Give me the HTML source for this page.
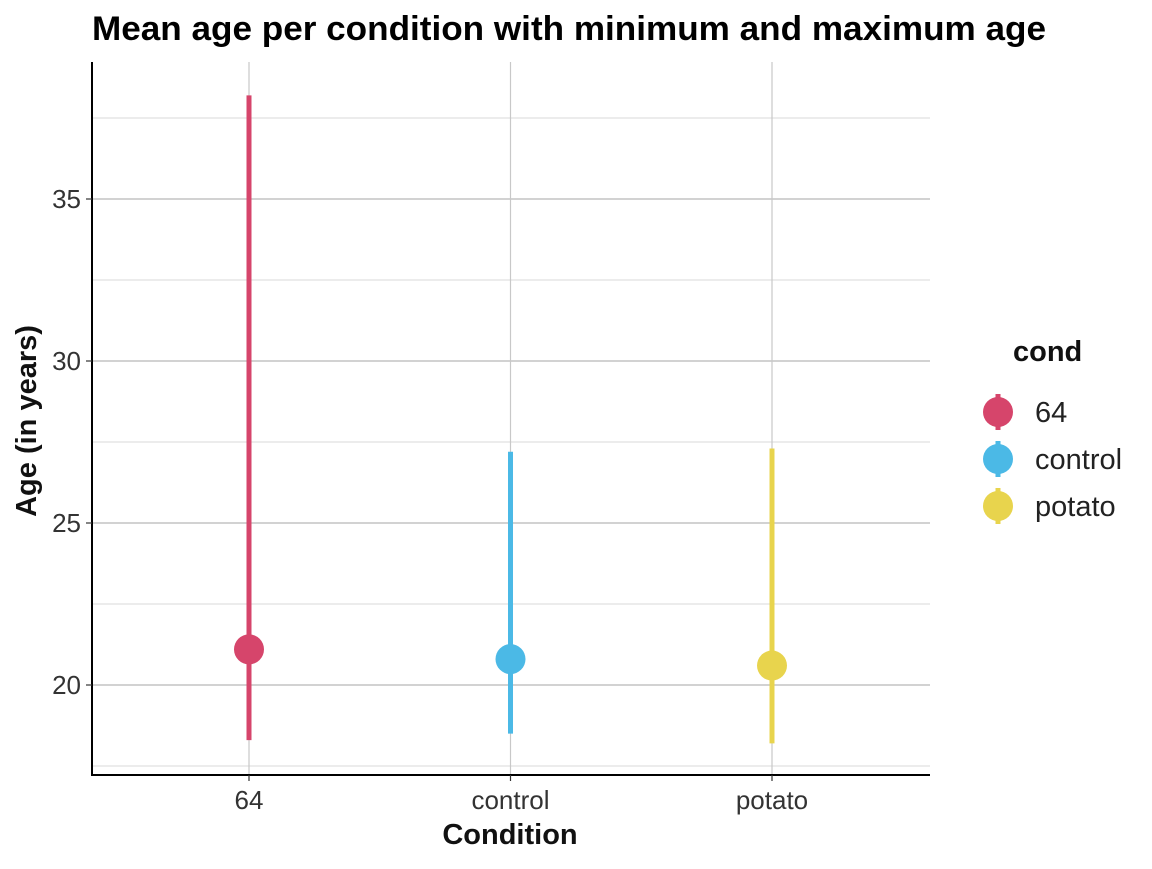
<!DOCTYPE html>
<html><head><meta charset="utf-8"><style>
body{margin:0;background:#fff;}
svg text{font-family:"Liberation Sans",Arial,sans-serif;}
</style></head><body>
<svg id="chart" width="1152" height="864" xmlns="http://www.w3.org/2000/svg">
<text x="92" y="40" font-size="34" font-weight="bold" fill="#000" textLength="954" lengthAdjust="spacingAndGlyphs">Mean age per condition with minimum and maximum age</text>
<g id="grid"></g>
<g id="marks"></g>
<line x1="92" y1="62" x2="92" y2="776" stroke="#000" stroke-width="2"/>
<line x1="91" y1="775" x2="930" y2="775" stroke="#000" stroke-width="2"/>
<g id="ticks"></g>
<text x="510" y="844" font-size="29" font-weight="bold" text-anchor="middle" fill="#111">Condition</text>
<text transform="translate(36,421) rotate(-90)" font-size="29" font-weight="bold" text-anchor="middle" fill="#111">Age (in years)</text>
<text x="1013" y="361" font-size="29" font-weight="bold" fill="#111">cond</text>
<g id="legend"></g>
</svg>
<script>
const categories = ["64", "control", "potato"];
const meanAge = [21.1, 20.8, 20.6];
const minAge = [18.3, 18.5, 18.2];
const maxAge = [38.2, 27.2, 27.3];
const colors = ["#d6456b", "#4bb9e6", "#e8d44d"];
const yTicks = [20, 25, 30, 35];
const yMinor = [17.5, 22.5, 27.5, 32.5, 37.5];

const NS = "http://www.w3.org/2000/svg";
const y = v => 685 - (v - 20) * 32.4;
const x = i => 249 + i * 261.5;
function mk(tag, attrs, parent) {
  const e = document.createElementNS(NS, tag);
  for (const k in attrs) e.setAttribute(k, attrs[k]);
  parent.appendChild(e);
  return e;
}
const grid = document.getElementById("grid");
const marks = document.getElementById("marks");
const ticks = document.getElementById("ticks");
const legend = document.getElementById("legend");

yMinor.forEach(v => {
  const l = mk("line", {x1: 92, x2: 930, y1: y(v), y2: y(v), stroke: "#d9d9d9", "stroke-width": 1}, grid);
  
  
});
yTicks.forEach(v => {
  const l = mk("line", {x1: 92, x2: 930, y1: y(v), y2: y(v), stroke: "#b8b8b8", "stroke-width": 1.2}, grid);
  
  
  const tk = mk("line", {x1: 86, x2: 92, y1: y(v), y2: y(v), stroke: "#333", "stroke-width": 1.2}, ticks);
  
  
  const t = mk("text", {x: 81, y: y(v) + 9, "font-size": 26, "text-anchor": "end", fill: "#333"}, ticks);
  t.textContent = v;
  
  
});
categories.forEach((c, i) => {
  const g = mk("line", {x1: x(i), x2: x(i), y1: 62, y2: 775, stroke: "#c8c8c8", "stroke-width": 1.2}, grid);
  
  
  const r = mk("line", {x1: x(i), x2: x(i), y1: y(minAge[i]), y2: y(maxAge[i]), stroke: colors[i], "stroke-width": 5}, marks);
  
  
  const p = mk("circle", {cx: x(i), cy: y(meanAge[i]), r: 15, fill: colors[i]}, marks);
  
  
  const tk = mk("line", {x1: x(i), x2: x(i), y1: 775, y2: 781, stroke: "#333", "stroke-width": 1.2}, ticks);
  
  
  const t = mk("text", {x: x(i), y: 809, "font-size": 26, "text-anchor": "middle", fill: "#333"}, ticks);
  t.textContent = c;
  
  
  const ly = 412 + i * 47;
  const ll = mk("line", {x1: 998, x2: 998, y1: ly - 18, y2: ly + 18, stroke: colors[i], "stroke-width": 5}, legend);
  
  
  const lc = mk("circle", {cx: 998, cy: ly, r: 15, fill: colors[i]}, legend);
  
  
  const lt = mk("text", {x: 1035, y: ly + 10, "font-size": 29, fill: "#222"}, legend);
  lt.textContent = c;
  
  
});
</script>
</body></html>
